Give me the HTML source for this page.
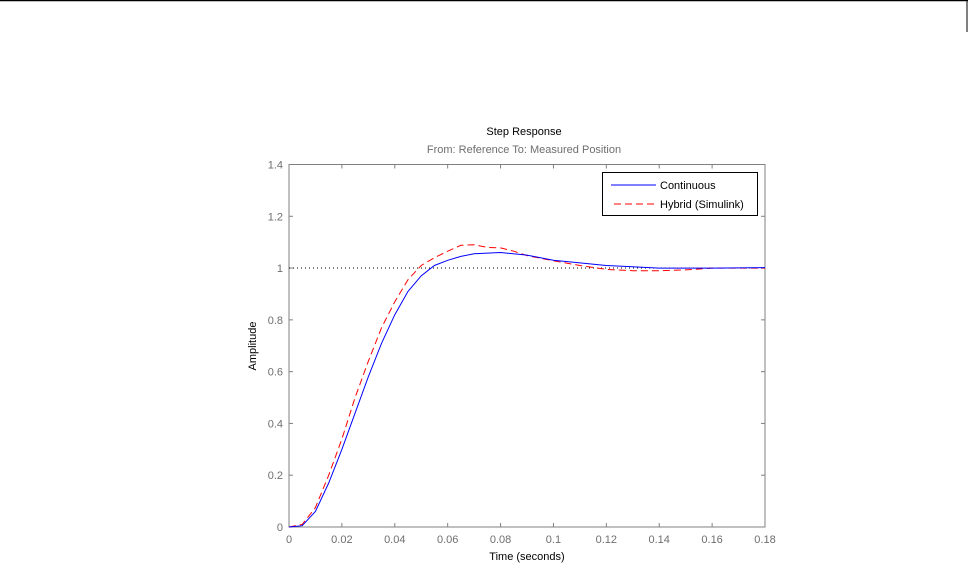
<!DOCTYPE html>
<html><head><meta charset="utf-8"><style>
html,body{margin:0;padding:0;background:#fff;width:973px;height:579px;overflow:hidden}
svg{display:block;font-family:"Liberation Sans",Arial,sans-serif}
</style></head><body>
<svg id="s" width="973" height="579" viewBox="0 0 973 579">
<line x1="0" y1="0.5" x2="968" y2="0.5" stroke="#000" stroke-width="1.5"/>
<line x1="967" y1="0" x2="967" y2="32" stroke="#000" stroke-width="1"/>
<rect x="289" y="164.5" width="476" height="362.5" fill="none" stroke="#808080" stroke-width="1"/>
<g id="ticks" stroke="#808080" stroke-width="1"></g>
<g id="labels" font-size="11" fill="#6e6e6e"></g>
<line x1="289" y1="268" x2="765" y2="268" stroke="#000" stroke-width="1" stroke-dasharray="1,3"/>
<polyline id="h" fill="none" stroke="#ff0000" stroke-width="1" stroke-dasharray="7,4"/>
<polyline id="c" fill="none" stroke="#0000ff" stroke-width="1"/>
<text x="524" y="135" font-size="11" fill="#000" text-anchor="middle">Step Response</text>
<text x="524" y="153" font-size="11" fill="#6e6e6e" text-anchor="middle">From: Reference  To: Measured Position</text>
<text x="527" y="560" font-size="11" fill="#000" text-anchor="middle">Time (seconds)</text>
<text transform="translate(256,346) rotate(-90)" font-size="11" fill="#000" text-anchor="middle">Amplitude</text>
<rect x="602.5" y="172.5" width="155" height="43" fill="#fff" stroke="#000" stroke-width="1"/>
<line x1="611" y1="185" x2="656" y2="185" stroke="#0000ff"/>
<text x="660" y="189" font-size="11" fill="#000">Continuous</text>
<line x1="614" y1="204" x2="656" y2="204" stroke="#ff0000" stroke-dasharray="7,4"/>
<text x="660" y="208" font-size="11" fill="#000">Hybrid (Simulink)</text>
</svg>
<script>
var L=289,R=765,T=164.5,B=527;
function X(t){return L+t/0.18*(R-L)}function Y(v){return B-v/1.4*(B-T)}
var tk=document.getElementById('ticks'),lb=document.getElementById('labels'),ns='http://www.w3.org/2000/svg';
function el(p,n,a,txt){var e=document.createElementNS(ns,n);for(var k in a)e.setAttribute(k,a[k]);if(txt!=null)e.textContent=txt;p.appendChild(e);}
for(var i=0;i<=9;i++){var x=X(i*0.02);el(tk,'line',{x1:x,y1:B,x2:x,y2:B-4});el(tk,'line',{x1:x,y1:T,x2:x,y2:T+4});
el(lb,'text',{x:x,y:B+16,'text-anchor':'middle'},i==0?'0':(i*0.02).toFixed(2).replace(/0$/,''));}
for(var j=0;j<=7;j++){var y=Y(j*0.2);el(tk,'line',{x1:L,y1:y,x2:L+4,y2:y});el(tk,'line',{x1:R,y1:y,x2:R-4,y2:y});
el(lb,'text',{x:L-6,y:y+4,'text-anchor':'end'},j==0?'0':(j*0.2).toFixed(1).replace(/\.0$/,''));}
var c=[[0,0],[0.005,0.005],[0.01,0.06],[0.015,0.17],[0.02,0.3],[0.025,0.44],[0.03,0.58],[0.035,0.71],[0.04,0.82],[0.045,0.91],[0.05,0.97],[0.055,1.01],[0.06,1.03],[0.065,1.045],[0.07,1.055],[0.08,1.06],[0.09,1.05],[0.1,1.03],[0.11,1.02],[0.12,1.01],[0.13,1.005],[0.14,1.0],[0.15,1.0],[0.16,1.0],[0.18,1.002]];
var h=[[0,0],[0.005,0.01],[0.01,0.075],[0.015,0.2],[0.02,0.34],[0.025,0.5],[0.03,0.64],[0.035,0.77],[0.04,0.87],[0.045,0.955],[0.05,1.01],[0.055,1.04],[0.06,1.065],[0.065,1.088],[0.07,1.09],[0.075,1.08],[0.08,1.078],[0.085,1.065],[0.09,1.048],[0.1,1.028],[0.11,1.01],[0.12,0.995],[0.13,0.99],[0.14,0.99],[0.15,0.993],[0.16,1.0],[0.18,1.0]];
function pts(a){return a.map(function(p){return X(p[0]).toFixed(1)+','+Y(p[1]).toFixed(1)}).join(' ')}
document.getElementById('c').setAttribute('points',pts(c));
document.getElementById('h').setAttribute('points',pts(h));
</script>
</body></html>
